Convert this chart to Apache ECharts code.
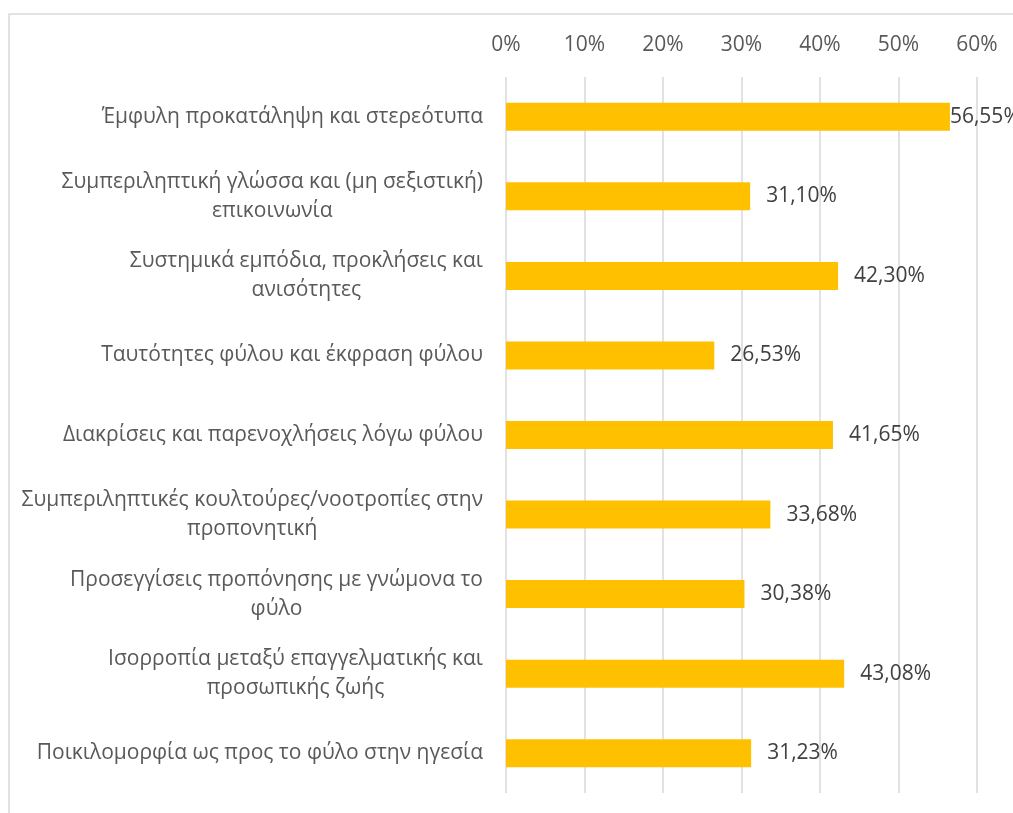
<!DOCTYPE html>
<html>
<head>
<meta charset="utf-8">
<script src="https://cdn.jsdelivr.net/npm/echarts@6/dist/echarts.min.js"></script>
<style>
html,body{margin:0;padding:0;background:#fff;}
#chart{width:1013px;height:813px;}
</style>
</head>
<body>
<div id="chart"></div>
<script>
const categories = [
  "Έμφυλη προκατάληψη και στερεότυπα",
  "Συμπεριληπτική γλώσσα και (μη σεξιστική)\nεπικοινωνία",
  "Συστημικά εμπόδια, προκλήσεις και\nανισότητες",
  "Ταυτότητες φύλου και έκφραση φύλου",
  "Διακρίσεις και παρενοχλήσεις λόγω φύλου",
  "Συμπεριληπτικές κουλτούρες/νοοτροπίες στην\nπροπονητική",
  "Προσεγγίσεις προπόνησης με γνώμονα το\nφύλο",
  "Ισορροπία μεταξύ επαγγελματικής και\nπροσωπικής ζωής",
  "Ποικιλομορφία ως προς το φύλο στην ηγεσία"
];
const values = [56.55, 31.10, 42.30, 26.53, 41.65, 33.68, 30.38, 43.08, 31.23];
const tickValues = [0, 10, 20, 30, 40, 50, 60];

const FONT = "'Open Sans', 'DejaVu Sans', sans-serif";
const FS = 21;
const chart = echarts.init(document.getElementById('chart'));

const seriesData = values.map((v, i) => {
  const item = { value: v };
  if (v === Math.max(...values)) {
    item.label = { distance: 0 };
  }
  return item;
});

chart.setOption({
  animation: false,
  backgroundColor: '#ffffff',
  graphic: [{
    type: 'rect',
    shape: { x: 9, y: 14, width: 1200, height: 900 },
    style: { fill: 'none', stroke: '#d9d9d9', lineWidth: 1.5 },
    silent: true,
    z: -1
  }],
  grid: { left: 506, right: 36, top: 77, bottom: 20, containLabel: false },
  xAxis: {
    type: 'value',
    position: 'top',
    min: tickValues[0],
    max: tickValues[tickValues.length - 1],
    interval: 10,
    axisLine: { show: false },
    axisTick: { show: false },
    axisLabel: {
      formatter: '{value}%',
      color: '#595959',
      fontSize: FS,
      fontFamily: FONT,
      margin: 21
    },
    splitLine: { show: true, lineStyle: { color: '#d9d9d9', width: 1.5 } }
  },
  yAxis: {
    type: 'category',
    inverse: true,
    data: categories,
    axisLine: { show: false },
    axisTick: { show: false },
    axisLabel: {
      margin: 23,
      align: 'right',
      color: '#595959',
      fontSize: FS,
      fontFamily: FONT,
      lineHeight: 29,
      formatter: function (v) {
        return v.split('\n').map(l => '{c|' + l + '}').join('\n');
      },
      rich: {
        c: { align: 'center', color: '#595959', fontSize: FS, fontFamily: FONT, lineHeight: 29 }
      }
    }
  },
  series: [{
    type: 'bar',
    data: seriesData,
    barWidth: 28,
    itemStyle: { color: '#FFC000' },
    label: {
      show: true,
      position: 'right',
      distance: 16,
      color: '#404040',
      fontSize: FS,
      fontFamily: FONT,
      formatter: p => p.value.toFixed(2).replace('.', ',') + '%'
    }
  }]
});
</script>
</body>
</html>
